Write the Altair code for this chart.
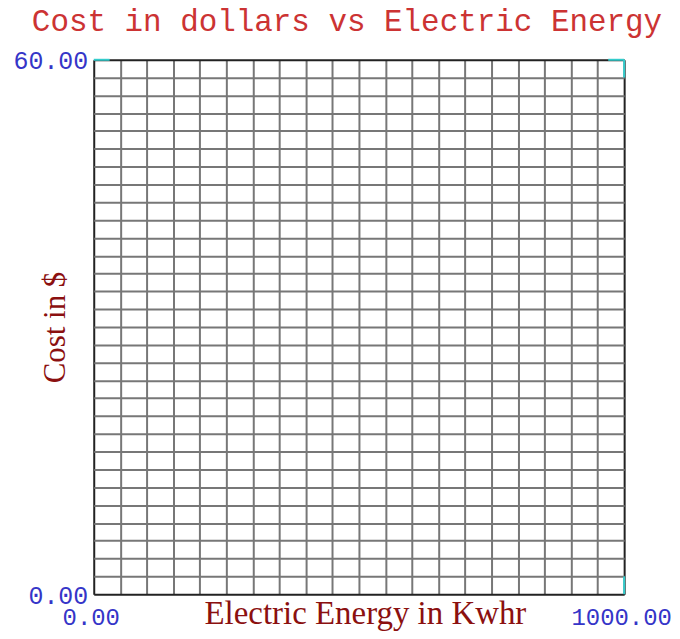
import altair as alt
import pandas as pd

# Axis ranges and gridlines
x_domain = [0, 1000]
y_domain = [0, 60]
x_grid = list(range(0, 1001, 50))
y_grid = list(range(0, 61, 2))

# Small cyan corner segments visible on the frame
corner_x = [0, 970, 1000, 1000]
corner_x2 = [30, 1000, 1000, 1000]
corner_y = [60, 60, 58, 0]
corner_y2 = [60, 60, 60, 2]

df = pd.DataFrame({"x": corner_x, "x2": corner_x2, "y": corner_y, "y2": corner_y2})

x_edge = "datum.value == 0 || datum.value == 1000"
y_edge = "datum.value == 0 || datum.value == 60"

x_axis = alt.Axis(
    values=x_grid,
    labelExpr=f"({x_edge}) ? format(datum.value, '.2f') : ''",
    grid=True,
    gridColor={"condition": {"test": x_edge, "value": "#222222"}, "value": "#777777"},
    gridWidth=2,
    gridOpacity=1,
    ticks=False,
    domain=False,
    labelFont="Liberation Mono",
    labelFontSize=24,
    labelColor="#3535c8",
    labelPadding=11,
    labelOffset=-3,
    labelFlush=False,
    labelOverlap=False,
    labelBound=False,
    title="Electric Energy in Kwhr",
    titleFont="Liberation Serif",
    titleFontSize=33,
    titleFontWeight="normal",
    titleColor="#8b1010",
    titleX=272,
    titleY=29,
    titleBaseline="alphabetic",
    titleAlign="center",
)

y_axis = alt.Axis(
    values=y_grid,
    labelExpr=f"({y_edge}) ? format(datum.value, '.2f') : ''",
    grid=True,
    gridColor={"condition": {"test": y_edge, "value": "#222222"}, "value": "#777777"},
    gridWidth=2,
    gridOpacity=1,
    ticks=False,
    domain=False,
    labelFont="Liberation Mono",
    labelFontSize=25,
    labelColor="#3535c8",
    labelPadding=6,
    labelOffset=1,
    labelFlush=False,
    labelOverlap=False,
    labelBound=False,
    labelBaseline="middle",
    title="Cost in $",
    titleFont="Liberation Serif",
    titleFontSize=31,
    titleFontWeight="normal",
    titleColor="#8b1010",
    titleAngle=-90,
    titleX=-29,
    titleY=268,
    titleBaseline="alphabetic",
    titleAlign="center",
)

chart = (
    alt.Chart(df)
    .mark_rule(color="#33cccc", strokeWidth=2)
    .encode(
        x=alt.X("x:Q", scale=alt.Scale(domain=x_domain, nice=False, zero=False), axis=x_axis),
        x2="x2:Q",
        y=alt.Y("y:Q", scale=alt.Scale(domain=y_domain, nice=False, zero=False), axis=y_axis),
        y2="y2:Q",
    )
    .properties(
        width=532,
        height=536,
        autosize=alt.AutoSizeParams(type="none"),
        padding={"left": 86, "top": 51, "right": 48, "bottom": 36},
        title=alt.TitleParams(
            "Cost in dollars vs Electric Energy",
            font="Liberation Mono",
            fontSize=31,
            fontWeight="normal",
            color="#cc3333",
            anchor="middle",
            dx=-12,
            offset=11,
        ),
    )
    .configure_view(stroke=None)
    .configure(background="white")
)

chart.save("out.html", embed_options={"renderer": "svg", "actions": False})
